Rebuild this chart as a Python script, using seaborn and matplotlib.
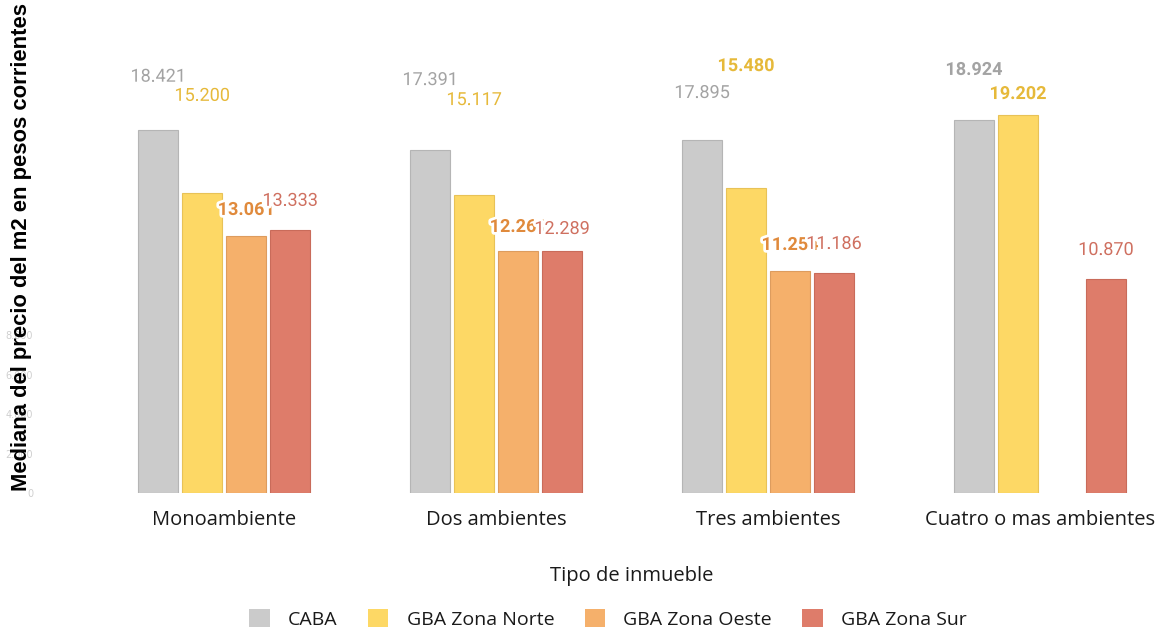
import numpy as np
import pandas as pd
import matplotlib
matplotlib.use("Agg")
import matplotlib.pyplot as plt
import matplotlib.patheffects as pe
from matplotlib.patches import Patch
import seaborn as sns

# ---- data ----
categories = ["Monoambiente", "Dos ambientes", "Tres ambientes", "Cuatro o mas ambientes"]
zones = ["CABA", "GBA Zona Norte", "GBA Zona Oeste", "GBA Zona Sur"]
caba = [18421, 17391, 17895, 18924]
norte = [15200, 15117, 15480, 19202]
oeste = [13061, 12261, 11254, np.nan]
sur = [13333, 12289, 11186, 10870]
y_ticks = [0, 2000, 4000, 6000, 8000]

# label nudges (data units above bar), per zone then category
label_nudge = {
    "CABA": [2700, 3560, 2400, 2540],
    "GBA Zona Norte": [4950, 4820, 6180, 1040],
    "GBA Zona Oeste": [1300, 1235, 1330, 0],
    "GBA Zona Sur": [1490, 1105, 1450, 1460],
}
label_bold = {
    "CABA": [False, False, False, True],
    "GBA Zona Norte": [False, False, True, True],
    "GBA Zona Oeste": [True, True, True, True],
    "GBA Zona Sur": [False, False, False, False],
}

bar_colors = ["#cbcbcb", "#fdd865", "#f5b06b", "#de7c6a"]
edge_colors = ["#b5b5b5", "#e8c257", "#dd9c5e", "#c96b5a"]
label_colors = ["#a3a3a3", "#e6b93a", "#e08a3c", "#cf7060"]

df = pd.DataFrame({
    "Tipo": categories * 4,
    "Zona": [z for z in zones for _ in categories],
    "Valor": caba + norte + oeste + sur,
})

sns.set_theme(style="white")
plt.rcParams["font.family"] = ["DejaVu Sans"]

W, H = 1157, 629
fig = plt.figure(figsize=(W / 100, H / 100), dpi=100)
left_px, right_px, top_px, bot_px = 61, 1203, 50, 493
ax = fig.add_axes([left_px / W, 1 - bot_px / H, (right_px - left_px) / W, (bot_px - top_px) / H])

sns.barplot(data=df, x="Tipo", y="Valor", hue="Zona", order=categories, hue_order=zones,
            palette=bar_colors, width=0.647, gap=0.09, ax=ax, legend=False,
            errorbar=None, saturation=1)

for ci, cont in enumerate(ax.containers):
    for bar in cont:
        bar.set_edgecolor(edge_colors[ci])
        bar.set_linewidth(0.8)

ax.set_xlim(-0.6, 3.6)
ymax = (bot_px - top_px) / 0.01971
ax.set_ylim(0, ymax)

# value labels
for zi, cont in enumerate(ax.containers):
    zone = zones[zi]
    for bar in cont:
        h = bar.get_height()
        if not np.isfinite(h) or h == 0:
            continue
        xc = bar.get_x() + bar.get_width() / 2
        cat_i = int(round(xc))
        txt = f"{h:,.0f}".replace(",", ".")
        ax.text(xc, h + label_nudge[zone][cat_i], txt, ha="center", va="center",
                fontsize=13, family=["Roboto", "DejaVu Sans"],
                fontweight="bold" if label_bold[zone][cat_i] else "normal",
                color=label_colors[zi], clip_on=False, zorder=5 + zi,
                path_effects=[pe.withStroke(linewidth=4, foreground="white")])

sns.despine(ax=ax, left=True, bottom=True)
ax.set_yticks(y_ticks)
ax.set_yticklabels([f"{v:,.0f}".replace(",", ".") for v in y_ticks],
                   fontsize=7, color="#cfcfcf")
ax.tick_params(axis="y", length=0, pad=20)
ax.tick_params(axis="x", length=0, pad=12)
xfont = ["Liberation Sans Narrow", "Open Sans", "DejaVu Sans"]
ax.set_xticks(range(len(categories)))
ax.set_xticklabels(categories, fontsize=14.5, color="#1a1a1a", family=xfont)
ax.set_xlabel("Tipo de inmueble", fontsize=14.5, color="#1a1a1a", family=xfont, labelpad=26)
ax.set_ylabel("")
ax.grid(False)

fig.text(22 / W, 1 - 247 / H, "Mediana del precio del m2 en pesos corrientes",
         rotation=90, ha="center", va="center", fontsize=15.8, fontweight="bold",
         family=["Liberation Sans", "DejaVu Sans"], color="black")

handles = [Patch(facecolor=c, edgecolor="none") for c in bar_colors]
fig.legend(handles, zones, loc="center", bbox_to_anchor=(608 / W, 1 - 619 / H), ncol=4,
           frameon=False, prop={"family": xfont, "size": 14}, handlelength=1.05,
           handleheight=1.05, handletextpad=0.95, columnspacing=1.55, labelcolor="#1a1a1a")

fig.savefig("out.png", dpi=100)
